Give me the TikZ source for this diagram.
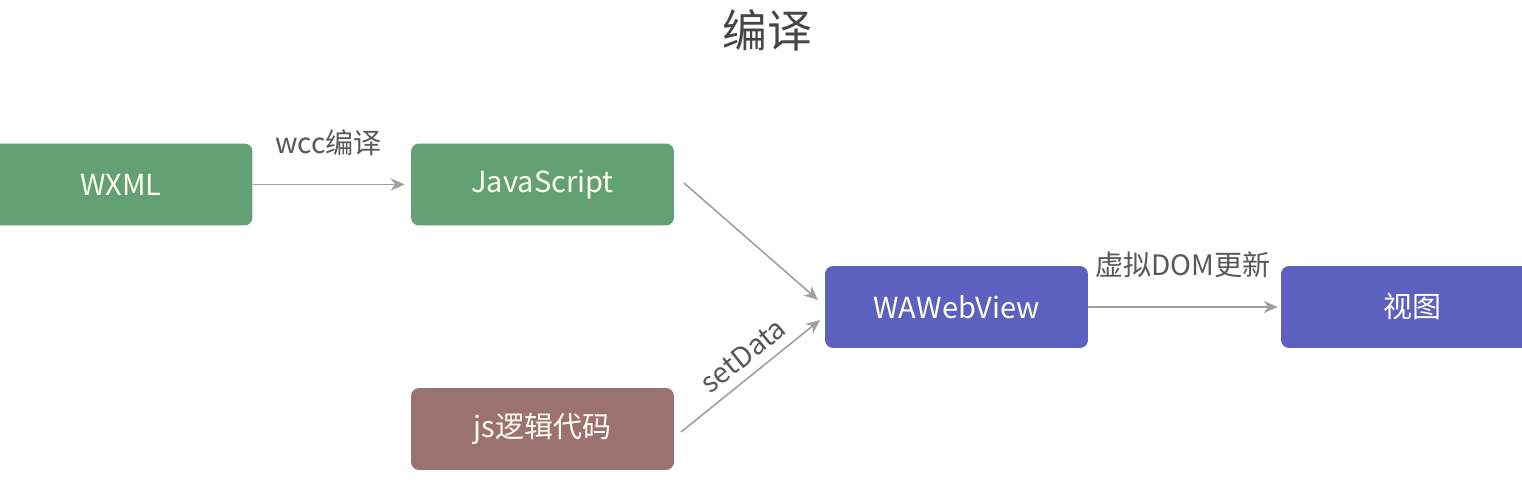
\documentclass[tikz,border=0pt]{standalone}
\usepackage{fontspec}
\setmainfont{Noto Sans CJK SC}
\usetikzlibrary{arrows.meta}

\definecolor{boxgreen}{RGB}{99,161,117}
\definecolor{boxblue}{RGB}{92,96,190}
\definecolor{boxbrown}{RGB}{155,113,113}
\definecolor{linegray}{RGB}{160,160,160}
\definecolor{titlegray}{RGB}{70,70,70}

\begin{document}
\begin{tikzpicture}[x=0.02cm, y=-0.02cm,
	blk/.style={rounded corners=0.16cm, minimum width=5.26cm, minimum height=1.64cm,
		inner sep=0pt, text=white!92!yellow, font=\fontsize{16.5}{19}\selectfont},
	flow/.style={draw=linegray, line width=0.9pt, -{Stealth[length=8pt,width=7pt]}},
	lbl/.style={text=titlegray!90, font=\fontsize{16}{19}\selectfont}]
	\useasboundingbox (0,0) rectangle (1522,503);
	\fill[white] (0,0) rectangle (1522,503);

	% title
	\node[text=titlegray, font=\fontsize{25.5}{30}\selectfont] (title) at (767,30) {编译};

	% boxes
	\node[blk, fill=boxgreen] (wxml) at (121,184.5) {WXML};
	\node[blk, fill=boxgreen] (js) at (542.5,184.5) {JavaScript};
	\node[blk, fill=boxbrown] (logic) at (542.5,429) {js逻辑代码};
	\node[blk, fill=boxblue] (wav) at (956.5,307) {WAWebView};
	\node[blk, fill=boxblue] (view) at (1412.5,307) {视图};

	\coordinate (jsout) at (684,183);
	\coordinate (jsin) at (818,300);
	\coordinate (lgout) at (681,432);
	\coordinate (lgin) at (820,320);

	% arrows
	\draw[flow] (wxml.east) -- ([xshift=-0.12cm]js.west) node[lbl, midway, above=0.45cm] (wcc) {wcc编译};
	\draw[flow] (jsout) -- (jsin);
	\draw[flow] (lgout) -- (lgin) node[lbl, pos=0.54, sloped, above=2pt] (set) {setData};
	\draw[flow] (wav.east) -- ([xshift=-0.06cm]view.west) node[lbl, midway, above=0.45cm] (dom) {虚拟DOM更新};
\end{tikzpicture}
\end{document}
